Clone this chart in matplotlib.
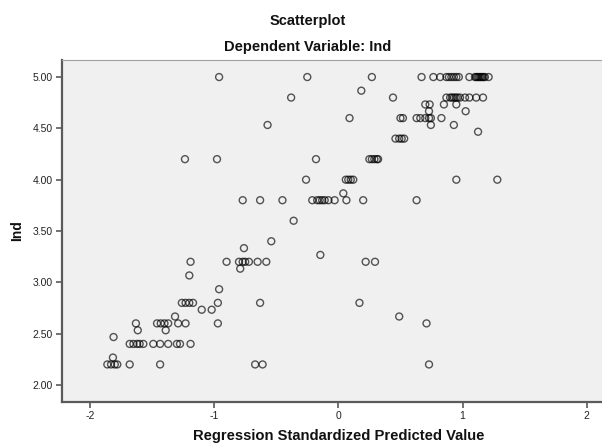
import matplotlib
matplotlib.use("Agg")
import matplotlib.pyplot as plt
import numpy as np

plt.rcParams['font.family'] = ['Liberation Sans', 'DejaVu Sans']

# Dependent variable levels (Ind) and the standardized predicted values observed at each level
ind_levels = [5.000, 4.867, 4.800, 4.733, 4.667, 4.600, 4.533, 4.467, 4.400, 4.200,
              4.000, 3.867, 3.800, 3.600, 3.400, 3.333, 3.267, 3.200, 3.133, 3.067,
              2.933, 2.800, 2.733, 2.667, 2.600, 2.533, 2.467, 2.400, 2.267, 2.200]

pred_by_level = [
    [-0.96, -0.25, 0.27, 0.67, 0.765, 0.82, 0.87, 0.89, 0.91, 0.93, 0.95, 0.97, 1.055,
     1.10, 1.11, 1.12, 1.13, 1.14, 1.15, 1.16, 1.17, 1.18, 1.21],          # 5.00
    [0.185],                                                                 # 4.867
    [-0.38, 0.44, 0.87, 0.90, 0.915, 0.93, 0.945, 0.96, 0.98, 1.02, 1.055, 1.11, 1.165],  # 4.80
    [0.70, 0.735, 0.85, 0.95],                                               # 4.733
    [0.73, 1.025],                                                           # 4.667
    [0.09, 0.50, 0.52, 0.63, 0.66, 0.70, 0.73, 0.745, 0.83],                 # 4.60
    [-0.57, 0.745, 0.93],                                                    # 4.533
    [1.125],                                                                 # 4.467
    [0.46, 0.49, 0.51, 0.53],                                                # 4.40
    [-1.235, -0.977, -0.18, 0.25, 0.27, 0.29, 0.31, 0.32],                   # 4.20
    [-0.26, 0.06, 0.08, 0.10, 0.12, 0.95, 1.28],                             # 4.00
    [0.04],                                                                  # 3.867
    [-0.77, -0.63, -0.45, -0.21, -0.17, -0.15, -0.13, -0.11, -0.08, -0.03, 0.065, 0.20, 0.63],  # 3.80
    [-0.36],                                                                 # 3.60
    [-0.54],                                                                 # 3.40
    [-0.76],                                                                 # 3.333
    [-0.145],                                                                # 3.267
    [-1.19, -0.90, -0.80, -0.77, -0.75, -0.72, -0.65, -0.58, 0.22, 0.295],   # 3.20
    [-0.79],                                                                 # 3.133
    [-1.20],                                                                 # 3.067
    [-0.96],                                                                 # 2.933
    [-1.26, -1.23, -1.20, -1.17, -0.97, -0.63, 0.17],                        # 2.80
    [-1.10, -1.02],                                                          # 2.733
    [-1.315, 0.49],                                                          # 2.667
    [-1.63, -1.46, -1.43, -1.40, -1.37, -1.29, -1.23, -0.97, 0.71],          # 2.60
    [-1.615, -1.39],                                                         # 2.533
    [-1.81],                                                                 # 2.467
    [-1.68, -1.65, -1.62, -1.60, -1.57, -1.49, -1.435, -1.37, -1.30, -1.275, -1.19],  # 2.40
    [-1.815],                                                                # 2.267
    [-1.86, -1.83, -1.80, -1.78, -1.68, -1.435, -0.67, -0.61, 0.73],         # 2.20
]

x_ticks = [-2, -1, 0, 1, 2]
y_ticks = [2.0, 2.5, 3.0, 3.5, 4.0, 4.5, 5.0]

title = "Scatterplot"
subtitle = "Dependent Variable: Ind"
x_label = "Regression Standardized Predicted Value"
y_label = "Ind"

pred = np.concatenate([np.array(v, dtype=float) for v in pred_by_level])
ind = np.concatenate([np.full(len(v), lvl) for lvl, v in zip(ind_levels, pred_by_level)])

W, H = 602, 443
fig = plt.figure(figsize=(W / 100, H / 100), dpi=100)
fig.patch.set_facecolor('white')

left, right, top, bottom = 62, 605, 60, 401.5
ax = fig.add_axes([left / W, (H - bottom) / H, (right - left) / W, (bottom - top) / H])
ax.set_facecolor('#f0f0f0')

ax.scatter(pred, ind, s=25, facecolors='none', edgecolors=(0, 0, 0, 0.66),
           linewidths=1.0, zorder=3)

ax.set_xlim(-2.225, 2.147)
ax.set_ylim(1.839, 5.166)
ax.set_xticks(x_ticks)
ax.set_xticklabels([str(t) for t in x_ticks])
ax.set_yticks(y_ticks)
ax.set_yticklabels([f"{t:.2f}" for t in y_ticks])

for side in ['left', 'bottom']:
    ax.spines[side].set_color('#5a5a5a')
    ax.spines[side].set_linewidth(1.6)
ax.spines['top'].set_color('#a0a0a0')
ax.spines['top'].set_linewidth(0.8)
ax.spines['right'].set_visible(False)

ax.tick_params(direction='out', length=4.5, width=1.2, colors='#5a5a5a',
               labelsize=7.5, labelcolor='#222222', pad=2)

fig.text(308 / W, 1 - 21 / H, title, ha='center', va='center',
         fontsize=10.5, fontweight='bold', color='#111111')
fig.text(308 / W, 1 - 47 / H, subtitle, ha='center', va='center',
         fontsize=10.5, fontweight='bold', color='#111111')
fig.text(338.5 / W, 1 - 436 / H, x_label, ha='center', va='center',
         fontsize=10.6, fontweight='bold', color='#111111')
fig.text(17 / W, 1 - 231 / H, y_label, ha='center', va='center', rotation=90,
         fontsize=10, fontweight='bold', color='#111111')

fig.savefig("out.png", dpi=100, facecolor='white')
